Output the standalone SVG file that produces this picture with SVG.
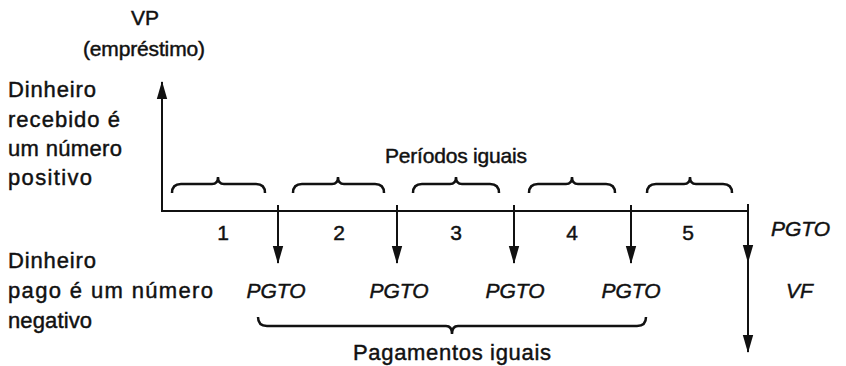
<svg xmlns="http://www.w3.org/2000/svg" width="846" height="366" viewBox="0 0 846 366">
<defs>
<style>
text{font-family:"Liberation Sans",Arial,sans-serif;font-size:20px;fill:#111;stroke:#111;stroke-width:0.45}
.c{text-anchor:middle}
.l{font-size:22px}
.n{font-size:21px}
.i{font-style:italic;font-size:21px}
.ln{stroke:#111;stroke-width:2;fill:none}
.br{stroke:#111;stroke-width:2.5;fill:none}
</style>
<marker id="ah" viewBox="0 0 18 12" refX="17" refY="6" markerWidth="18" markerHeight="12" markerUnits="userSpaceOnUse" orient="auto">
<path d="M0,0.8 L18,6 L0,11.2 Z" fill="#111"/>
</marker>
</defs>
<rect width="846" height="366" fill="#fff"/>

<g id="labels-top">
<text class="c n" x="145" y="25">VP</text>
<text class="c n" x="144" y="56" textLength="122" lengthAdjust="spacing">(empréstimo)</text>
</g>
<g id="label-received">
<text class="l" x="8" y="97" textLength="88" lengthAdjust="spacing">Dinheiro</text>
<text class="l" x="8" y="127" textLength="112" lengthAdjust="spacing">recebido é</text>
<text class="l" x="8" y="156" textLength="114" lengthAdjust="spacing">um número</text>
<text class="l" x="8" y="185" textLength="84" lengthAdjust="spacing">positivo</text>
</g>
<g id="label-paid">
<text class="l" x="8" y="268" textLength="88" lengthAdjust="spacing">Dinheiro</text>
<text class="l" x="8" y="298" textLength="205" lengthAdjust="spacing">pago é um número</text>
<text class="l" x="8" y="328" textLength="84" lengthAdjust="spacing">negativo</text>
</g>
<g id="label-periods">
<text class="c n" x="456" y="163" textLength="142" lengthAdjust="spacing">Períodos iguais</text>
</g>
<g id="period-numbers">
<text class="c n" x="223" y="240">1</text>
<text class="c n" x="339" y="240">2</text>
<text class="c n" x="456" y="240">3</text>
<text class="c n" x="572" y="240">4</text>
<text class="c n" x="688" y="240">5</text>
</g>
<g id="payments">
<text class="c i" x="276" y="298">PGTO</text>
<text class="c i" x="399" y="298">PGTO</text>
<text class="c i" x="515" y="298">PGTO</text>
<text class="c i" x="631" y="298">PGTO</text>
<text class="i" x="771" y="236">PGTO</text>
<text class="i" x="786" y="298">VF</text>
</g>
<g id="label-payments">
<text class="c l" x="452" y="360" textLength="198" lengthAdjust="spacing">Pagamentos iguais</text>
</g>

<g id="period-braces" class="br">
<path d="M172,193 Q172,184 181,184 L212,184 Q218,184 218,177 Q218,184 224,184 L256,184 Q265,184 265,193"/>
<path d="M293,193 Q293,184 302,184 L332,184 Q338,184 338,177 Q338,184 344,184 L375,184 Q384,184 384,193"/>
<path d="M413,193 Q413,184 422,184 L450,184 Q456,184 456,177 Q456,184 462,184 L490,184 Q499,184 499,193"/>
<path d="M529,193 Q529,184 538,184 L566,184 Q572,184 572,177 Q572,184 578,184 L606,184 Q615,184 615,193"/>
<path d="M647,193 Q647,184 656,184 L684,184 Q690,184 690,177 Q690,184 696,184 L723,184 Q732,184 732,193"/>
</g>
<g id="payment-brace" class="br">
<path d="M258,317 Q258,326 267,326 L446,326 Q452,326 452,334 Q452,326 458,326 L637,326 Q646,326 646,317"/>
</g>

<g id="connectors" class="ln">
<line x1="162" y1="212" x2="162" y2="82" marker-end="url(#ah)"/>
<line x1="161" y1="211" x2="748" y2="211"/>
<line x1="278" y1="205" x2="278" y2="263" marker-end="url(#ah)"/>
<line x1="397" y1="205" x2="397" y2="263" marker-end="url(#ah)"/>
<line x1="514" y1="205" x2="514" y2="263" marker-end="url(#ah)"/>
<line x1="631" y1="205" x2="631" y2="263" marker-end="url(#ah)"/>
<line x1="748" y1="204" x2="748" y2="262" marker-end="url(#ah)"/>
<line x1="748" y1="255" x2="748" y2="352" marker-end="url(#ah)"/>
</g>
</svg>
